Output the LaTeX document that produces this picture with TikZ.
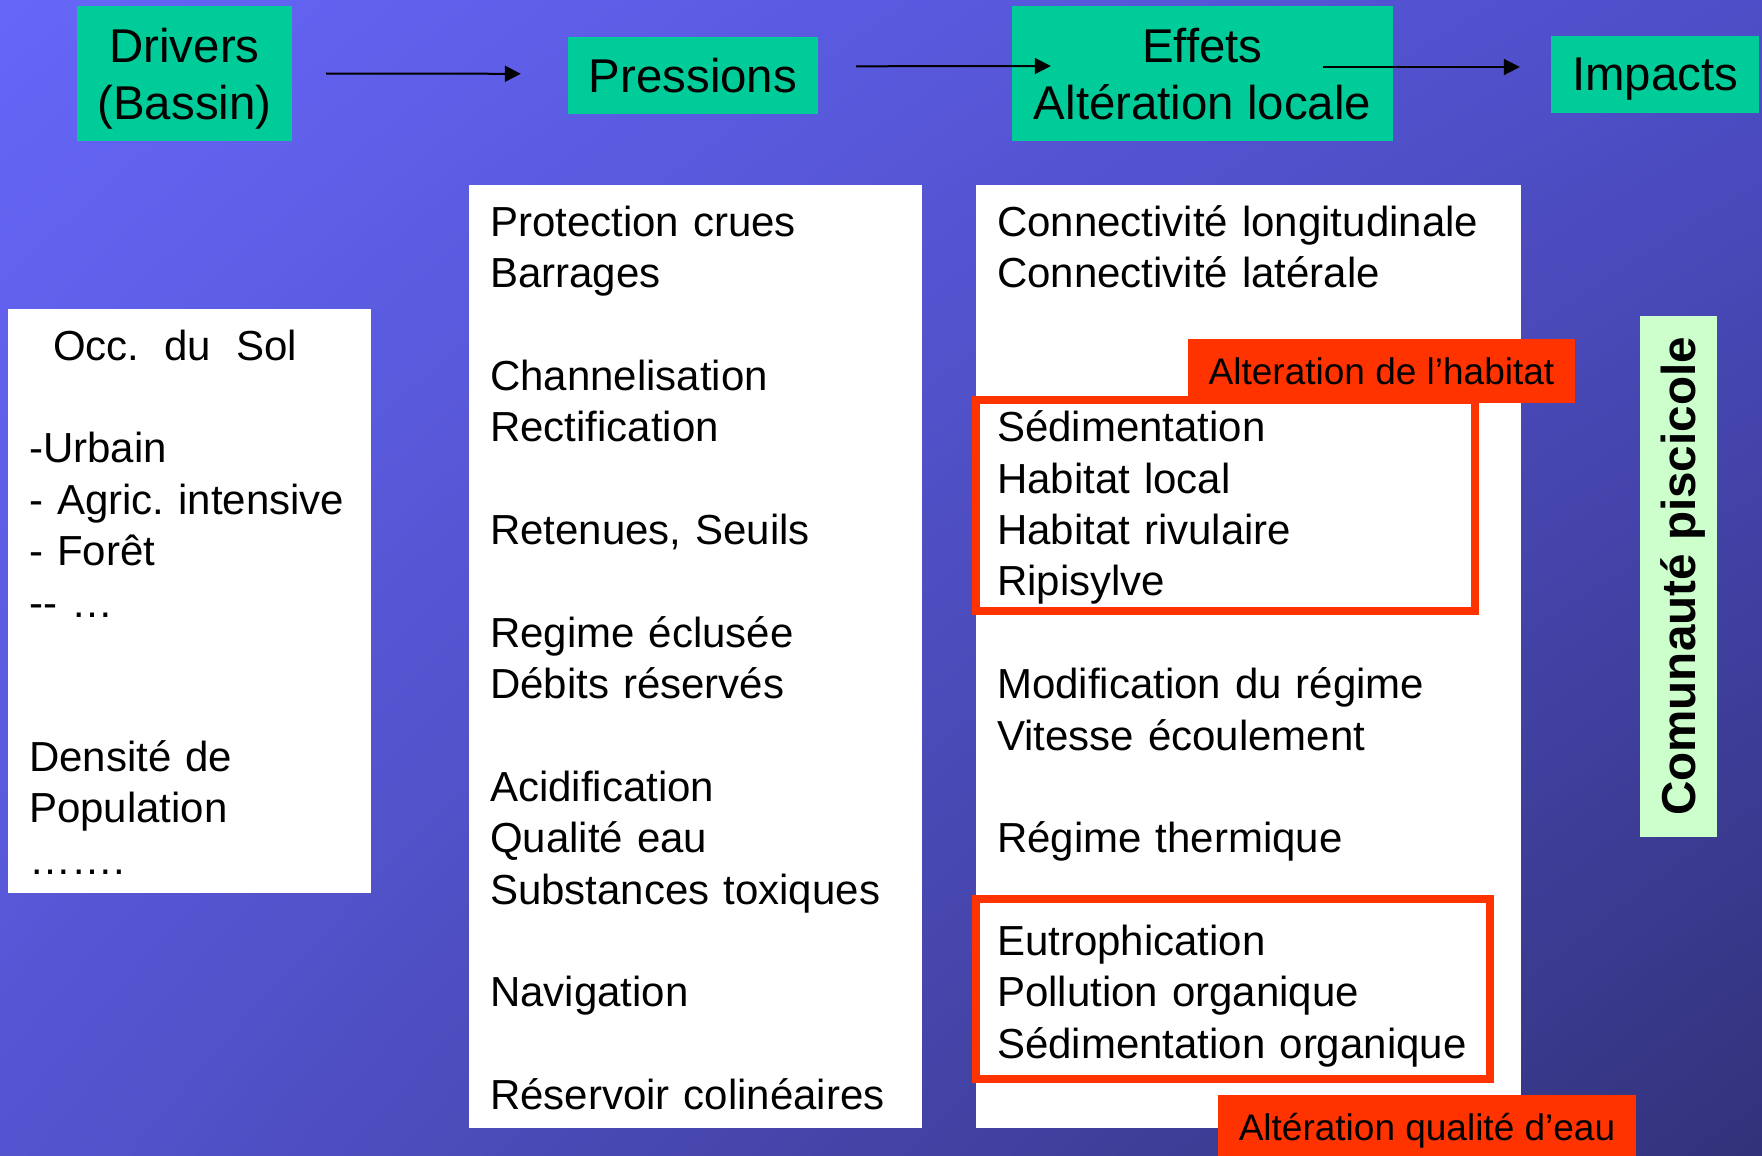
\documentclass[tikz,border=0pt]{standalone}
\usepackage{fontspec}
\setmainfont{Liberation Sans}
\usepackage{tikz}
\usetikzlibrary{arrows.meta,calc,shadings}
\definecolor{bgtl}{RGB}{102,102,248}
\definecolor{bgtr}{RGB}{78,78,200}
\definecolor{bgbl}{RGB}{84,84,208}
\definecolor{bgbr}{RGB}{50,50,122}
\definecolor{green2}{RGB}{0,204,153}
\definecolor{lightgreen2}{RGB}{204,255,204}
\definecolor{red2}{RGB}{255,51,0}
\frenchspacing

\tikzset{
  hdr/.style={fill=green2, inner sep=0pt, align=center, text depth=0pt, font=\fontsize{47.4}{57}\selectfont},
  col/.style={fill=white, inner sep=0pt, anchor=north west},
  coltxt/.style={anchor=base west, inner sep=0pt, text width=540pt, align=left, font=\fontsize{42}{51.4}\selectfont},
  lbl/.style={fill=red2, inner sep=0pt, text depth=0pt, font=\fontsize{37}{44}\selectfont},
  redframe/.style={draw=red2, line width=8pt},
  arr/.style={-{Triangle[length=16pt,width=16pt]}, line width=2pt},
}

\begin{document}
\begin{tikzpicture}[x=1pt, y=-1pt]
    \useasboundingbox (0,0) rectangle (1762,1156);
    \shade[upper left=bgtl, upper right=bgtr, lower left=bgbl, lower right=bgbr] (0,0) rectangle (1762,1156);

    % white columns
    \path (8,309) node[col, minimum width=363pt, minimum height=584pt] (occ-col) {};
    \path (469,185) node[col, minimum width=453pt, minimum height=943pt] (pres-col) {};
    \path (976,185) node[col, minimum width=545pt, minimum height=943pt] (eff-col) {};

    \path (29,360) node[coltxt] (occ-txt) {\hspace*{24pt}Occ.\hspace{25pt}du\hspace{25pt}Sol\\ ~\\ -Urbain\\ - Agric. intensive\\ - Forêt\\ -{}- …\\ ~\\ ~\\ Densité de\\ Population\\ …….};
    \path (490,236) node[coltxt] (pres-txt) {Protection crues\\ Barrages\\ ~\\ Channelisation\\ Rectification\\ ~\\ Retenues, Seuils\\ ~\\ Regime éclusée\\ Débits réservés\\ ~\\ Acidification\\ Qualité eau\\ Substances toxiques\\ ~\\ Navigation\\ ~\\ Réservoir colinéaires};
    \path (997,236) node[coltxt] (eff-txt) {Connectivité longitudinale\\ Connectivité latérale\\ ~\\ ~\\ Sédimentation\\ Habitat local\\ Habitat rivulaire\\ Ripisylve\\ ~\\ Modification du régime\\ Vitesse écoulement\\ ~\\ Régime thermique\\ ~\\ Eutrophication\\ Pollution organique\\ Sédimentation organique};

    % red groups and their labels
    \draw[redframe] (976,400) rectangle (1475,611);
    \draw[redframe] (976,899) rectangle (1490,1079);
    \path (1381.5,371) node[lbl, minimum width=387pt, minimum height=64pt] (habitat) {Alteration de l’habitat};
    \path (1427,1126.5) node[lbl, minimum width=418pt, minimum height=63pt] (qualite) {Altération qualité d’eau};

    % header chain
    \path (184.5,73.5) node[hdr, minimum width=215pt, minimum height=135pt] (drivers) {Drivers\\(Bassin)};
    \path (693,75.3) node[hdr, minimum width=250pt, minimum height=77pt] (pres) {Pressions};
    \path (1202.5,73.5) node[hdr, minimum width=381pt, minimum height=135pt] (effets) {Effets\\Altération locale};
    \path (1655,74.5) node[hdr, minimum width=208pt, minimum height=77pt] (impacts) {Impacts};

    \draw[arr] ([xshift=34pt]drivers.east) -- ([xshift=-47pt,yshift=1.5pt]pres.west);
    \draw[arr] ([xshift=38pt,yshift=9pt]pres.east) -- ([xshift=39pt,yshift=7.5pt]effets.west);
    \draw[arr] ([xshift=-70pt,yshift=6.5pt]effets.east) -- ([xshift=-31pt,yshift=7.5pt]impacts.west);

    \path (1678.5,576.5) node[fill=lightgreen2, inner sep=0pt, rotate=90, text depth=0pt, minimum width=521pt, minimum height=77pt, font=\fontsize{47.6}{57}\selectfont\bfseries] (communaute) {Comunauté piscicole};
\end{tikzpicture}
\end{document}
